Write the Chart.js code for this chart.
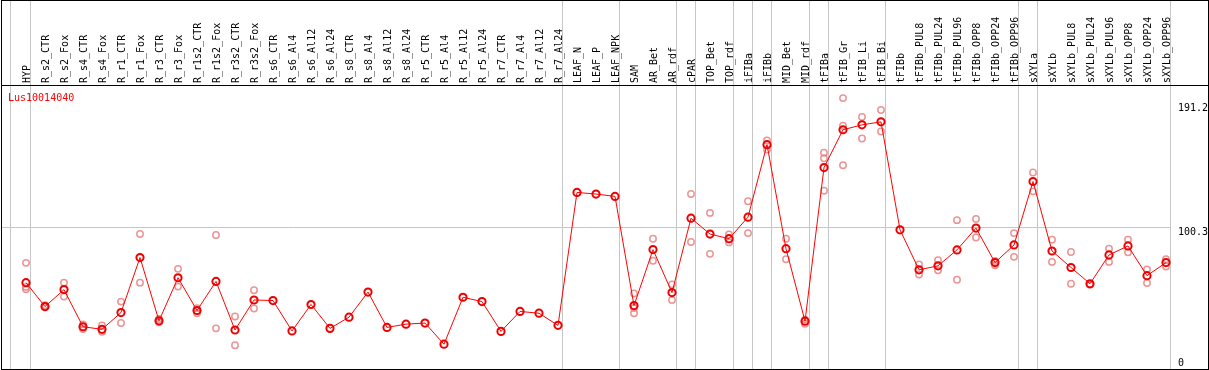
<!DOCTYPE html>
<html>
<head>
    <meta charset="UTF-8">
    <title>Lus10014040</title>
    <script src="https://cdn.jsdelivr.net/npm/chart.js@4.4.1/dist/chart.umd.min.js"></script>
    <style>
        body { margin: 0; background: #fff; }
        canvas { display: block; }
    </style>
</head>
<body>
    <canvas id="myChart" width="1209" height="370"></canvas>
    <script>

        var seriesName = 'Lus10014040';

        var samples = ['HYP', 'R_s2_CTR', 'R_s2_Fox', 'R_s4_CTR', 'R_s4_Fox', 'R_r1_CTR', 'R_r1_Fox',
            'R_r3_CTR', 'R_r3_Fox', 'R_r1s2_CTR', 'R_r1s2_Fox', 'R_r3s2_CTR', 'R_r3s2_Fox',
            'R_s6_CTR', 'R_s6_Al4', 'R_s6_Al12', 'R_s6_Al24', 'R_s8_CTR', 'R_s8_Al4', 'R_s8_Al12',
            'R_s8_Al24', 'R_r5_CTR', 'R_r5_Al4', 'R_r5_Al12', 'R_r5_Al24', 'R_r7_CTR', 'R_r7_Al4',
            'R_r7_Al12', 'R_r7_Al24', 'LEAF_N', 'LEAF_P', 'LEAF_NPK', 'SAM', 'AR_Bet', 'AR_rdf',
            'cPAR', 'TOP_Bet', 'TOP_rdf', 'iFIBa', 'iFIBb', 'MID_Bet', 'MID_rdf', 'tFIBa', 'tFIB_Gr',
            'tFIB_Li', 'tFIB_Bi', 'tFIBb', 'tFIBb_PUL8', 'tFIBb_PUL24', 'tFIBb_PUL96', 'tFIBb_OPP8',
            'tFIBb_OPP24', 'tFIBb_OPP96', 'sXYLa', 'sXYLb', 'sXYLb_PUL8', 'sXYLb_PUL24',
            'sXYLb_PUL96', 'sXYLb_OPP8', 'sXYLb_OPP24', 'sXYLb_OPP96'];

        // mean expression per sample
        var means = [59.6, 42.1, 54.5, 27.3, 25.4, 37.7, 78.0, 31.6, 63.2, 39.2, 60.5, 24.9, 46.9,
            46.5, 24.2, 43.6, 26.1, 34.3, 52.7, 26.8, 29.2, 30.0, 14.5, 48.9, 45.7, 23.9, 38.5,
            37.2, 28.3, 125.7, 124.5, 122.8, 42.8, 83.8, 52.3, 106.8, 95.2, 91.8, 107.6, 160.7,
            84.5, 31.4, 143.9, 171.6, 175.2, 177.4, 98.3, 69.0, 71.9, 83.6, 99.6, 74.3, 87.2,
            133.7, 82.8, 70.7, 58.8, 79.9, 86.5, 64.7, 74.3];

        // replicates (null = none shown)
        var rep1 = [74.1, 43.0, 59.6, 29.0, 28.3, 45.7, 95.2, 33.0, 69.7, 40.9, 94.5, 34.8, 54.0,
            null, null, null, null, null, null, null, null, null, null, null, null, null, null,
            null, null, null, null, null, 51.6, 91.8, 58.3, 124.5, 110.7, 94.9, 119.2, 163.8,
            91.8, 32.5, 154.8, 194.8, 181.0, 186.1, null, 72.9, 76.0, 105.4, 106.3, 72.4, 95.9,
            140.3, 91.1, 82.1, 58.0, 84.5, 91.1, 69.2, 76.7];
        var rep2 = [54.7, 41.5, 49.4, 25.6, 23.6, 30.0, 59.6, 30.5, 56.7, 37.2, 26.1, 13.7, 40.7,
            null, null, null, null, null, null, null, null, null, null, null, null, null, null,
            null, null, null, null, null, 37.2, 75.6, 46.9, 89.4, 80.7, 89.1, 95.9, 157.2,
            76.7, 29.5, 150.7, 174.5, 165.2, 170.3, null, 65.6, 68.7, 61.7, 92.7, 75.5, 78.5,
            126.5, 74.8, 58.8, null, 74.8, 81.8, 59.3, 71.4];
        var rep3 = [56.5, null, null, null, null, null, null, null, null, null, null, null, null,
            null, null, null, null, null, null, null, null, null, null, null, null, null, null,
            null, null, null, null, null, 41.0, null, null, null, null, null, null, null,
            null, null, 126.9, 145.6, null, null, null, null, null, null, null, null, null,
            null, null, null, null, null, null, null, null];

        var yTicks = [0, 100.3, 191.2];

        // last sample of each group, a grey separator follows it
        var groupEnds = [0, 28, 31, 34, 35, 37, 38, 39, 41, 42, 45, 52, 53, 60];

        var FONT = "'DejaVu Sans Mono', monospace";

        const framePlugin = {
            id: 'frame',
            beforeDatasetsDraw(chart) {
                const ctx = chart.ctx;
                const x = chart.scales.x;
                const y = chart.scales.y;
                const W = chart.width;
                ctx.save();
                ctx.lineWidth = 1;
                ctx.strokeStyle = '#c6c6c6';
                // horizontal grid at the middle tick
                const gy = Math.round(y.getPixelForValue(yTicks[1])) + 0.5;
                const lastSep = Math.floor(x.getPixelForValue(samples.length - 1) + 4.5) + 0.5;
                ctx.beginPath();
                ctx.moveTo(1, gy);
                ctx.lineTo(lastSep, gy);
                ctx.stroke();
                // group separators
                ctx.beginPath();
                const first = Math.floor(x.getPixelForValue(0) - 16) + 0.5;
                ctx.moveTo(first, 0);
                ctx.lineTo(first, 369);
                groupEnds.forEach(i => {
                    const px = Math.floor(x.getPixelForValue(i) + 4.5) + 0.5;
                    ctx.moveTo(px, 0);
                    ctx.lineTo(px, 369);
                });
                ctx.stroke();
                // black frame and header rule
                ctx.strokeStyle = '#000';
                ctx.strokeRect(1.5, 0.5, W - 2, 369);
                ctx.beginPath();
                ctx.moveTo(1, chart.chartArea.top + 0.5);
                ctx.lineTo(W, chart.chartArea.top + 0.5);
                ctx.stroke();
                ctx.restore();
            },
            afterDraw(chart) {
                const ctx = chart.ctx;
                const y = chart.scales.y;
                const area = chart.chartArea;
                ctx.save();
                ctx.font = '10px ' + FONT;
                ctx.textBaseline = 'alphabetic';
                ctx.textAlign = 'left';
                ctx.fillStyle = '#000';
                yTicks.forEach(v => {
                    const base = Math.min(y.getPixelForValue(v) + 8, 366);
                    ctx.fillText(String(v), area.right + 12, base);
                });
                ctx.fillStyle = '#ff0000';
                ctx.fillText(chart.data.datasets[0].label, 8, area.top + 16);
                ctx.restore();
            }
        };

        function repSet(values) {
            return {
                label: 'rep',
                data: values,
                showLine: false,
                pointStyle: 'circle',
                pointRadius: 3.2,
                pointBorderWidth: 1.5,
                pointBorderColor: 'rgba(232, 130, 130, 0.85)',
                pointBackgroundColor: 'rgba(0,0,0,0)',
                order: 2
            };
        }

        const data = {
            labels: samples,
            datasets: [{
                label: seriesName,
                data: means,
                borderColor: '#ff0000',
                borderWidth: 1,
                pointRadius: 3.6,
                pointBorderWidth: 2,
                pointBorderColor: '#ee0000',
                pointBackgroundColor: 'rgba(0,0,0,0)',
                order: 0
            }, repSet(rep1), repSet(rep2), repSet(rep3)]
        };

        const config = {
            type: 'line',
            data,
            options: {
                responsive: false,
                animation: false,
                events: [],
                clip: false,
                spanGaps: false,
                layout: { padding: { left: 26, right: 43, top: 0, bottom: 4 } },
                plugins: {
                    legend: { display: false },
                    tooltip: { enabled: false }
                },
                scales: {
                    x: {
                        type: 'category',
                        position: 'top',
                        offset: false,
                        grid: { display: false, drawTicks: false },
                        border: { display: false },
                        ticks: {
                            autoSkip: false,
                            minRotation: 90,
                            maxRotation: 90,
                            padding: 2,
                            labelOffset: 13,
                            color: '#000',
                            font: { family: FONT, size: 10 }
                        },
                        afterFit(scale) { scale.height = 85; }
                    },
                    y: {
                        display: false,
                        min: 0,
                        max: 204.4
                    }
                }
            },
            plugins: [framePlugin]
        };

        var myChart = new Chart(document.getElementById('myChart'), config);
    </script>
</body>
</html>
